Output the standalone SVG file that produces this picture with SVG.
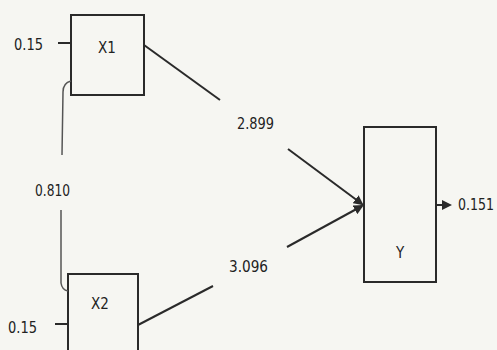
<svg xmlns="http://www.w3.org/2000/svg" width="497" height="350" viewBox="0 0 497 350">
<style>
.box{fill:none;stroke:#2a2a2a;stroke-width:2}
.ln{fill:none;stroke:#2a2a2a;stroke-width:2}
.lnl{fill:none;stroke:#555;stroke-width:1.5}
text{font-family:"Liberation Sans Narrow","DejaVu Sans Condensed","Liberation Sans",sans-serif;fill:#222;font-size:15px}
</style>
<defs>
<marker id="ah" markerWidth="10" markerHeight="10" refX="8" refY="5" orient="auto" markerUnits="userSpaceOnUse">
<path d="M0,0 L10,5 L0,10 Z" fill="#2a2a2a"/>
</marker>
</defs>
<rect width="497" height="350" fill="#f6f6f2"/>
<g id="X1">
<rect class="box" x="71" y="15" width="73" height="80"/>
<text x="107" y="53" text-anchor="middle">X1</text>
</g>
<g id="X2">
<rect class="box" x="68" y="274" width="70" height="90"/>
<text x="100" y="309" text-anchor="middle">X2</text>
</g>
<g id="Y">
<rect class="box" x="364" y="127" width="72" height="155"/>
<text x="400" y="258" text-anchor="middle">Y</text>
</g>
<g id="connectors">
<line class="ln" x1="58" y1="43" x2="71" y2="43"/>
<line class="ln" x1="55" y1="324" x2="68" y2="324"/>
<path class="lnl" d="M71,81 Q63,83 63,92 L62,155"/>
<path class="lnl" d="M61,210 L61,283 Q62,290 68,291"/>
<line class="ln" x1="144" y1="45" x2="220" y2="100"/>
<line class="ln" x1="138" y1="325" x2="213" y2="286"/>
<line class="ln" x1="288" y1="149" x2="362" y2="204" marker-end="url(#ah)"/>
<line class="ln" x1="287" y1="247" x2="362" y2="206" marker-end="url(#ah)"/>
<line class="ln" x1="436" y1="205" x2="450" y2="205" marker-end="url(#ah)"/>
</g>
<g id="labels">
<text x="14" y="50" textLength="29" lengthAdjust="spacingAndGlyphs">0.15</text>
<text x="8" y="333" textLength="29" lengthAdjust="spacingAndGlyphs">0.15</text>
<text x="35" y="196" textLength="35" lengthAdjust="spacingAndGlyphs">0.810</text>
<text x="237" y="129" textLength="37" lengthAdjust="spacingAndGlyphs" font-size="18">2.899</text>
<text x="229" y="272" textLength="39" lengthAdjust="spacingAndGlyphs" font-size="18">3.096</text>
<text x="458" y="210" textLength="36" lengthAdjust="spacingAndGlyphs">0.151</text>
</g>
</svg>
